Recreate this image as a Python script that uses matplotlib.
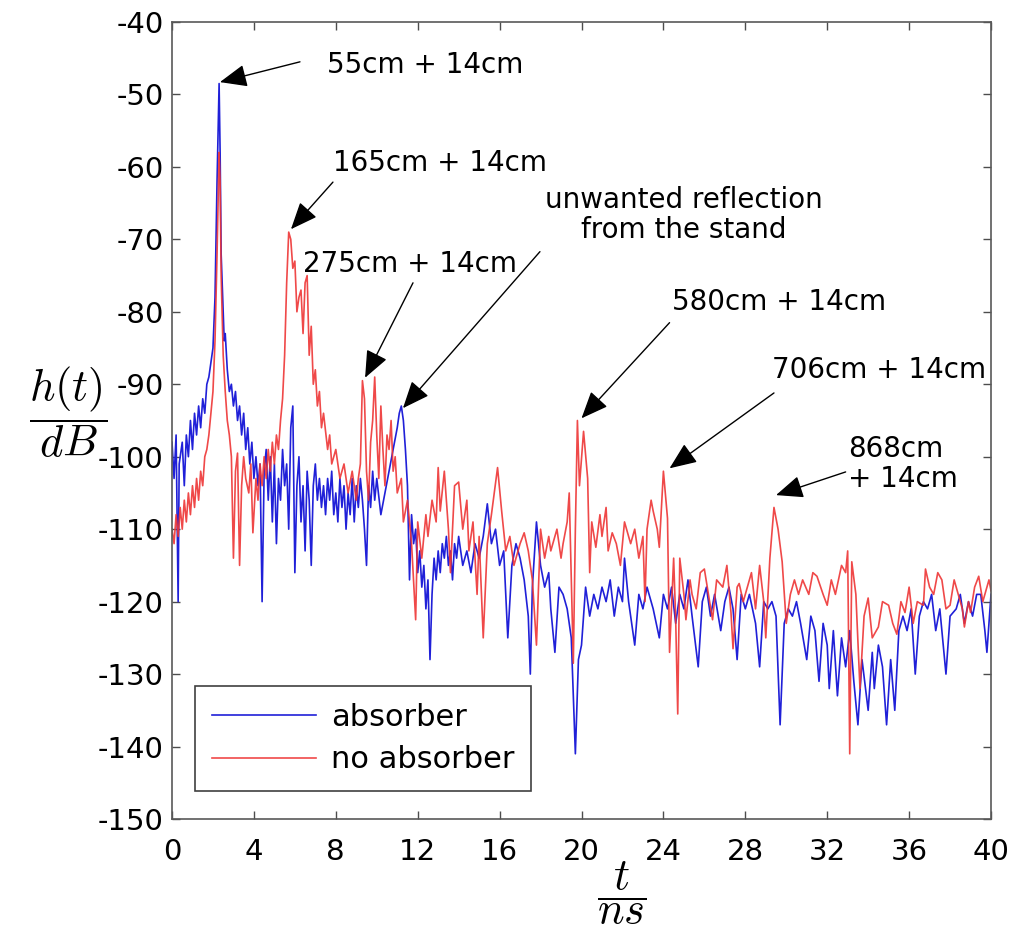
import matplotlib
matplotlib.use("Agg")
import matplotlib.pyplot as plt
from matplotlib.patches import ArrowStyle

# ---------------------------------
# data
# ---------------------------------
t_abs = [0.0, 0.1, 0.2, 0.3, 0.35, 0.5, 0.6, 0.7, 0.8, 0.9, 1.0, 1.1, 1.2, 1.3, 1.4, 1.5,
         1.6, 1.7, 1.8, 1.9, 2.0, 2.1, 2.2, 2.3, 2.35, 2.4, 2.5, 2.55, 2.6, 2.7, 2.8, 2.9,
         3.0, 3.1, 3.2, 3.3, 3.4, 3.5, 3.6, 3.7, 3.8, 3.9, 4.0, 4.1, 4.2, 4.3, 4.4, 4.5,
         4.6, 4.7, 4.8, 4.9, 5.0, 5.1, 5.2, 5.3, 5.4, 5.5, 5.6, 5.7, 5.8, 5.9, 6.0, 6.1,
         6.2, 6.3, 6.4, 6.5, 6.6, 6.7, 6.8, 6.9, 7.0, 7.1, 7.2, 7.3, 7.4, 7.5, 7.6, 7.7,
         7.8, 7.9, 8.0, 8.1, 8.2, 8.3, 8.4, 8.5, 8.6, 8.7, 8.8, 8.9, 9.0, 9.1, 9.2, 9.3,
         9.4, 9.5, 9.6, 9.7, 9.8, 9.9, 10.0, 10.2, 10.4, 10.6, 10.8, 11.0, 11.1, 11.2, 11.3, 11.4,
         11.5, 11.6, 11.7, 11.8, 11.9, 12.0, 12.1, 12.2, 12.3, 12.4, 12.5, 12.6, 12.7, 12.8, 12.9, 13.0,
         13.1, 13.2, 13.3, 13.4, 13.5, 13.6, 13.7, 13.8, 13.9, 14.0, 14.2, 14.4, 14.6, 14.8, 15.0, 15.2,
         15.4, 15.6, 15.8, 16.0, 16.2, 16.4, 16.6, 16.8, 17.0, 17.2, 17.4, 17.5, 17.6, 17.8, 18.0, 18.2,
         18.4, 18.5, 18.7, 18.9, 19.1, 19.3, 19.5, 19.7, 19.85, 20.0, 20.2, 20.4, 20.6, 20.8, 21.0, 21.2,
         21.4, 21.6, 21.8, 22.0, 22.1, 22.3, 22.6, 22.8, 23.0, 23.2, 23.5, 23.8, 24.0, 24.2, 24.4, 24.6,
         24.8, 25.0, 25.2, 25.4, 25.7, 25.9, 26.1, 26.3, 26.5, 26.8, 27.0, 27.2, 27.4, 27.6, 27.8, 28.0,
         28.2, 28.5, 28.7, 28.9, 29.1, 29.3, 29.5, 29.7, 29.9, 30.1, 30.3, 30.5, 30.7, 31.0, 31.2, 31.4,
         31.6, 31.8, 32.0, 32.1, 32.3, 32.5, 32.7, 32.9, 33.1, 33.3, 33.5, 33.7, 34.0, 34.2, 34.3, 34.5,
         34.7, 34.9, 35.1, 35.3, 35.5, 35.7, 35.9, 36.1, 36.3, 36.5, 36.7, 36.9, 37.1, 37.3, 37.5, 37.8,
         38.0, 38.3, 38.5, 38.7, 38.9, 39.1, 39.3, 39.5, 39.7, 39.8, 40.0]
h_abs = [-98, -103, -97, -120, -101, -98, -104, -97, -100, -95, -99, -94, -97, -93, -96, -92,
         -94, -90, -89, -87, -85, -78, -62, -48.5, -58, -72, -80, -84, -83, -88, -91, -90,
         -93, -91, -95, -93, -97, -94, -99, -96, -101, -98, -103, -100, -104, -101, -120, -102,
         -99, -106, -100, -109, -101, -112, -103, -106, -99, -104, -101, -110, -96, -93, -116, -104,
         -100, -109, -104, -113, -102, -106, -115, -104, -101, -106, -103, -107, -104, -108, -103, -106,
         -102, -108, -105, -109, -103, -107, -104, -110, -105, -108, -103, -109, -104, -107, -103, -106,
         -110, -115, -104, -107, -102, -106, -103, -108, -105, -102, -99, -96, -94, -93, -95, -99,
         -104, -117, -108, -112, -110, -116, -113, -118, -115, -121, -117, -128, -119, -114, -117, -113,
         -116, -112, -114, -111, -115, -113, -117, -112, -114, -111, -115, -113, -116, -112, -114, -111,
         -106.5, -112, -110, -115, -113, -125, -115, -112, -114, -117, -122, -130, -118, -109, -115, -118,
         -116, -121, -127, -118, -119, -121, -125, -141, -128, -126, -118, -122, -119, -121, -118, -120,
         -117, -122, -118, -120, -114, -120, -126, -119, -121, -118, -121, -125, -119, -121, -118, -123,
         -119, -121, -117, -122, -129, -120, -118, -122, -119, -124, -120, -118, -121, -128, -119, -121,
         -119, -123, -129, -120, -121, -120, -122, -137, -123, -121, -122, -120, -123, -128, -122, -124,
         -131, -123, -126, -132, -124, -133, -125, -129, -124, -131, -137, -128, -135, -127, -132, -126,
         -129, -137, -128, -135, -124, -122, -124, -121, -130, -122, -120, -121, -119, -124, -121, -130,
         -122, -121, -119, -123, -120, -122, -119, -119, -124, -127, -119]

t_noabs = [0.0, 0.1, 0.2, 0.3, 0.4, 0.5, 0.6, 0.7, 0.8, 0.9, 1.0, 1.1, 1.2, 1.3, 1.4, 1.5,
           1.6, 1.7, 1.8, 1.9, 2.0, 2.1, 2.2, 2.3, 2.35, 2.4, 2.5, 2.6, 2.7, 2.8, 2.9, 3.0,
           3.1, 3.2, 3.3, 3.4, 3.5, 3.6, 3.75, 3.85, 3.95, 4.1, 4.2, 4.3, 4.4, 4.5, 4.6, 4.7,
           4.8, 4.9, 5.0, 5.1, 5.2, 5.3, 5.4, 5.5, 5.6, 5.7, 5.8, 5.9, 6.0, 6.1, 6.2, 6.3,
           6.4, 6.5, 6.6, 6.7, 6.8, 6.9, 7.0, 7.1, 7.2, 7.3, 7.4, 7.6, 7.7, 7.8, 8.0, 8.2,
           8.4, 8.6, 8.8, 9.0, 9.1, 9.2, 9.3, 9.4, 9.5, 9.6, 9.7, 9.8, 9.9, 10.0, 10.1, 10.2,
           10.3, 10.4, 10.5, 10.6, 10.7, 10.8, 10.9, 11.0, 11.2, 11.3, 11.5, 11.7, 11.9, 12.0, 12.2, 12.4,
           12.5, 12.7, 12.9, 13.0, 13.1, 13.3, 13.5, 13.6, 13.8, 14.0, 14.2, 14.4, 14.5, 14.7, 14.9, 15.0,
           15.2, 15.4, 15.6, 15.9, 16.1, 16.3, 16.5, 16.7, 17.0, 17.2, 17.4, 17.6, 17.8, 18.0, 18.2, 18.4,
           18.5, 18.8, 19.0, 19.1, 19.3, 19.4, 19.6, 19.7, 19.8, 19.9, 20.1, 20.3, 20.4, 20.5, 20.7, 20.9,
           21.0, 21.2, 21.3, 21.5, 21.7, 21.9, 22.1, 22.4, 22.6, 22.8, 23.0, 23.1, 23.2, 23.4, 23.5, 23.7,
           23.8, 24.0, 24.2, 24.3, 24.5, 24.6, 24.7, 24.8, 25.0, 25.1, 25.3, 25.4, 25.6, 25.8, 26.0, 26.2,
           26.4, 26.6, 26.9, 27.1, 27.3, 27.4, 27.6, 27.7, 27.9, 28.1, 28.3, 28.5, 28.7, 28.9, 29.0, 29.2,
           29.4, 29.6, 29.8, 30.0, 30.2, 30.4, 30.6, 30.8, 31.1, 31.3, 31.5, 31.8, 32.0, 32.2, 32.4, 32.7,
           32.9, 33.0, 33.1, 33.2, 33.4, 33.6, 33.8, 34.0, 34.2, 34.5, 34.7, 35.0, 35.2, 35.4, 35.6, 35.8,
           36.0, 36.2, 36.4, 36.7, 36.8, 37.0, 37.2, 37.4, 37.6, 37.8, 38.0, 38.2, 38.4, 38.6, 38.7, 38.9,
           39.0, 39.2, 39.4, 39.6, 39.7, 39.9, 40.0]
h_noabs = [-110, -112, -108, -111, -107, -110, -106, -109, -105, -108, -104, -107, -103, -106, -102, -104,
           -100, -99, -97, -94, -91, -84, -72, -58, -62, -75, -86, -91, -95, -97, -100, -114,
           -102, -99.5, -115, -104, -100, -103, -105, -101, -110.5, -103, -106, -101, -104, -100, -103, -99,
           -102, -98, -101, -97, -99, -95, -92, -86, -76, -69, -70, -74, -73, -80, -78, -77,
           -83, -76, -75, -86, -82, -90, -88, -93, -91, -96, -94, -99, -97, -101, -99, -103,
           -101, -105, -102, -106, -103, -101, -89.5, -92, -102, -106, -98, -95, -89, -97, -103, -93,
           -99, -104, -97, -99, -95, -102, -100, -105, -103, -109, -106, -112, -122.5, -109, -114, -108,
           -111, -106, -109, -101.5, -107.5, -102, -110, -116, -104, -103.5, -110, -106, -113, -109, -119, -111,
           -125, -112, -108, -101.5, -107.5, -113, -111, -115, -112, -110.5, -113, -117, -126, -110, -114, -111,
           -113, -110, -114, -112, -109, -105, -128.5, -110, -95, -104, -96.5, -103, -116, -109, -112.5, -108,
           -111, -107, -113, -110.5, -112, -115, -109, -112, -110, -114, -111, -120, -110, -106, -107.5, -110,
           -112.5, -102, -108.5, -127, -114, -122.5, -135.5, -114, -119, -122.5, -117, -119, -121, -116, -115.5, -119,
           -122.5, -117, -118, -115, -121.5, -126.5, -118, -117.5, -120, -118, -116, -121, -115, -120, -125, -114,
           -107, -110, -114.5, -123, -119, -117, -119, -117, -119, -116, -116.5, -119, -120.5, -117, -119, -115,
           -116, -113, -141, -114.5, -119, -132, -122, -119.5, -125, -123.5, -120, -120.5, -123, -124.5, -120, -121.5,
           -118, -123, -120, -120.5, -115.5, -118, -119, -116, -117, -121, -120.5, -117, -119, -121, -123.5, -120,
           -121.5, -118, -116.5, -120, -119, -117, -118.5]

series_labels = ["absorber", "no absorber"]

# annotation texts with (arrow tip, arrow tail, text position) in data units
notes = ["55cm + 14cm", "165cm + 14cm", "275cm + 14cm",
         "unwanted reflection\nfrom the stand",
         "580cm + 14cm", "706cm + 14cm", "868cm\n+ 14cm"]
note_tip = [(2.34, -48.3), (5.81, -68.6), (9.43, -89.1), (11.28, -93.3),
            (20.0, -94.7), (24.3, -101.6), (29.5, -105.3)]
note_tail = [(6.25, -45.5), (7.86, -62.1), (11.77, -76.0), (17.97, -71.7),
             (24.3, -81.5), (29.4, -91.2), (32.9, -102.1)]
note_pos = [(7.57, -45.9), (7.86, -59.4), (6.4, -73.4), (25.0, -66.6),
            (24.4, -78.6), (29.3, -88.0), (33.0, -101.0)]
note_ha = ["left", "left", "left", "center", "left", "left", "left"]

x_ticks = list(range(0, 41, 4))
y_ticks = list(range(-150, -39, 10))

# ---------------------------------
plt.rcParams['font.family'] = ['DejaVu Sans']
plt.rcParams['mathtext.fontset'] = 'cm'
plt.rcParams['axes.unicode_minus'] = False

fig = plt.figure(figsize=(10.16, 9.31), dpi=100)
ax = fig.add_axes([0.1693, 0.1203, 0.8061, 0.8561])

ax.plot(t_abs, h_abs, color='#2020d8', lw=1.2, label=series_labels[0])
ax.plot(t_noabs, h_noabs, color='#ee3535', lw=1.2, alpha=0.9, label=series_labels[1])

ax.set_xlim(0, 40)
ax.set_ylim(-150, -40)
ax.set_xticks(x_ticks)
ax.set_yticks(y_ticks)
ax.tick_params(direction='in', length=6, width=1, top=True, right=True,
               labelsize=21, colors='0.3', labelcolor='black')
ax.tick_params(axis='x', pad=14)
ax.tick_params(axis='y', pad=6)
for sp in ax.spines.values():
    sp.set_color('0.35')
    sp.set_linewidth(1.2)

head = ArrowStyle('-|>', head_length=0.6, head_width=0.25)
for txt, tip, tail, pos, ha in zip(notes, note_tip, note_tail, note_pos, note_ha):
    ax.annotate('', xy=tip, xytext=tail,
                arrowprops=dict(arrowstyle=head, mutation_scale=28, lw=1,
                                color='black', shrinkA=0, shrinkB=0))
    ax.text(pos[0], pos[1], txt, fontsize=20, ha=ha, va='center',
            multialignment='center' if ha == 'center' else 'left', linespacing=1.1)

leg = ax.legend(loc='lower left', bbox_to_anchor=(0.028, 0.035), fontsize=22,
                fancybox=False, edgecolor='0.25', framealpha=1,
                handlelength=3.4, handletextpad=0.5, labelspacing=0.45,
                borderpad=0.55, borderaxespad=0)
leg.get_frame().set_linewidth(1.2)

fig.text(68 / 1016, 1 - 412 / 931, r'$\dfrac{h(t)}{dB}$', fontsize=32,
         ha='center', va='center')
fig.text(622 / 1016, 1 - 893 / 931, r'$\dfrac{t}{ns}$', fontsize=32,
         ha='center', va='center')

fig.savefig('out.png', dpi=100)
